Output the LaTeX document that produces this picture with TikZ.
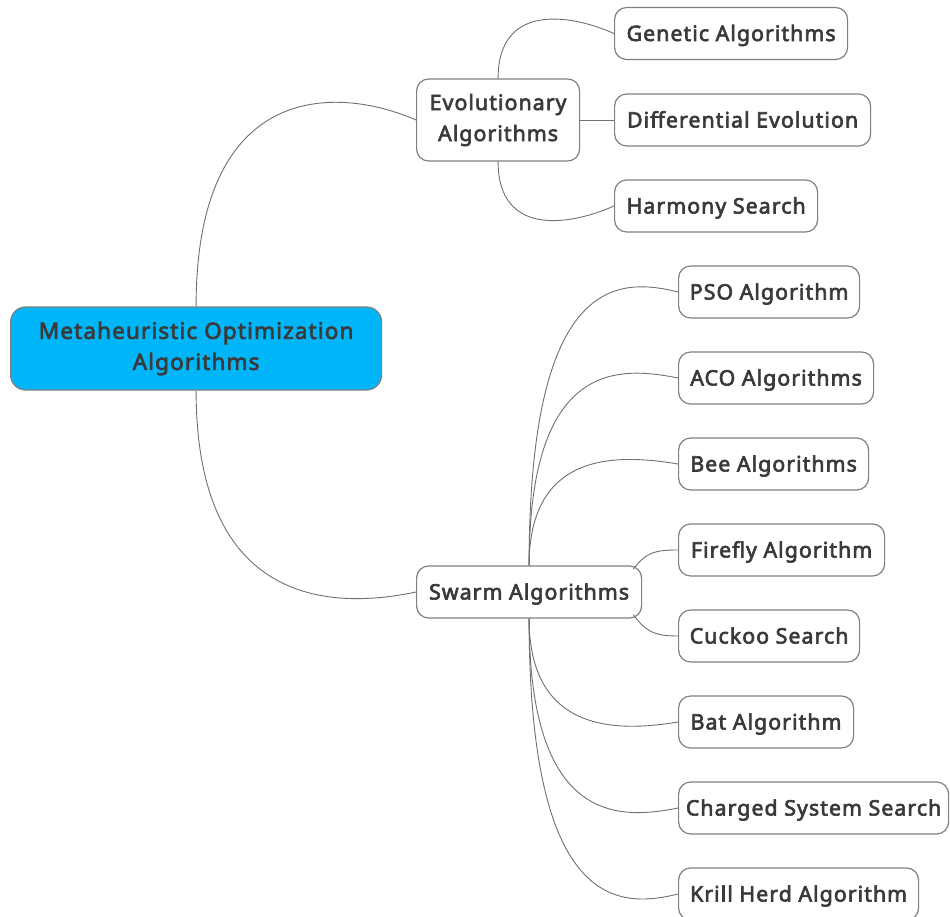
\documentclass[tikz,border=0pt]{standalone}
\usepackage{fontspec}
\setmainfont{Noto Sans}[BoldFont={Noto Sans},BoldFeatures={FakeBold=3,LetterSpace=5}]
\definecolor{txtgray}{HTML}{3A3A3A}
\definecolor{boxgray}{HTML}{808080}
\definecolor{linkgray}{HTML}{707070}
\definecolor{rootblue}{HTML}{00B6F8}
\begin{document}
\begin{tikzpicture}[x=1pt,y=-1pt,
  topic/.style={draw=boxgray, line width=1.2pt, rounded corners=12pt, fill=white,
    text=txtgray, font=\fontsize{21.3}{31}\selectfont\bfseries, align=center,
    inner sep=0pt, minimum height=52pt, anchor=west},
  leaf/.style={topic, text height=15pt, text depth=0pt},
  roottopic/.style={topic, fill=rootblue, rounded corners=15pt,
    font=\fontsize{22.5}{31}\selectfont\bfseries},
  link/.style={draw=linkgray, line width=0.9pt}]
\useasboundingbox (0,0) rectangle (950,917);

% central topic
\node[roottopic, minimum width=371pt, minimum height=83pt] (root) at (10,348.5)
  {Metaheuristic Optimization\\Algorithms};

% main branches
\node[topic, minimum width=163pt, minimum height=82pt] (evo) at (416,120)
  {Evolutionary\\Algorithms};
\node[leaf, minimum width=225pt] (sw) at (416,592) {Swarm Algorithms};

% evolutionary family
\node[leaf, minimum width=233pt] (ga) at (614,33.5) {Genetic Algorithms};
\node[leaf, minimum width=256pt] (de) at (614,120) {Differential Evolution};
\node[leaf, minimum width=203pt] (hs) at (614,206) {Harmony Search};

% swarm family
\node[leaf, minimum width=181pt] (pso) at (678,292) {PSO Algorithm};
\node[leaf, minimum width=195pt] (aco) at (678,378) {ACO Algorithms};
\node[leaf, minimum width=190pt] (bee) at (678,464) {Bee Algorithms};
\node[leaf, minimum width=206pt] (ff) at (678,550) {Firefly Algorithm};
\node[leaf, minimum width=181pt] (cs) at (678,636) {Cuckoo Search};
\node[leaf, minimum width=175pt] (bat) at (678,722) {Bat Algorithm};
\node[leaf, minimum width=270pt] (css) at (678,808) {Charged System Search};
\node[leaf, minimum width=240pt] (kh) at (678,894) {Krill Herd Algorithm};

% corner points on the swarm box for the short links
\coordinate (swNE) at ([xshift=-9pt,yshift=-4pt]sw.north east);
\coordinate (swSE) at ([xshift=-9pt,yshift=4pt]sw.south east);

% links from the central topic
\draw[link] (root.north) .. controls +(0,-225) and +(-80,-35) .. (evo.west);
\draw[link] (root.south) .. controls +(0,215) and +(-85,18) .. (sw.west);

% evolutionary links
\draw[link] (evo.north) .. controls +(0,-75) and +(-45,-20) .. (ga.west);
\draw[link] (evo.east) -- (de.west);
\draw[link] (evo.south) .. controls +(0,75) and +(-45,20) .. (hs.west);

% swarm links
\draw[link] (sw.north) .. controls +(0,-290) and +(-60,-15) .. (pso.west);
\draw[link] (sw.north) .. controls +(0,-205) and +(-60,-12) .. (aco.west);
\draw[link] (sw.north) .. controls +(0,-115) and +(-60,-10) .. (bee.west);
\draw[link] (swNE) .. controls +(12,-16) and +(-25,0) .. (ff.west);
\draw[link] (swSE) .. controls +(12,16) and +(-25,0) .. (cs.west);
\draw[link] (sw.south) .. controls +(0,115) and +(-60,10) .. (bat.west);
\draw[link] (sw.south) .. controls +(0,205) and +(-60,12) .. (css.west);
\draw[link] (sw.south) .. controls +(0,290) and +(-60,15) .. (kh.west);
\end{tikzpicture}
\end{document}
